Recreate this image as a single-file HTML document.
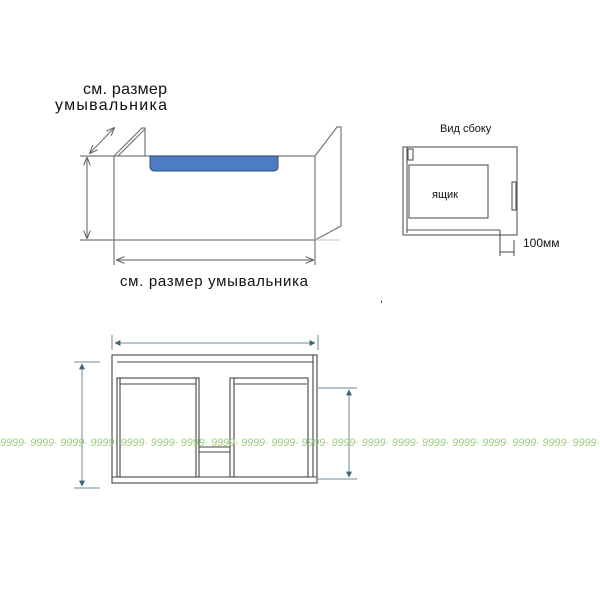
<!DOCTYPE html>
<html><head><meta charset="utf-8"><style>
body{margin:0;background:#fff}
svg{display:block}
text{font-family:"Liberation Sans","DejaVu Sans",sans-serif}
</style></head><body>
<svg width="600" height="600" viewBox="0 0 600 600" xmlns="http://www.w3.org/2000/svg">
<defs>
<marker id="a" viewBox="0 0 10 10" refX="9" refY="5" markerWidth="7" markerHeight="7" orient="auto-start-reverse"><path d="M0,1 L10,5 L0,9" fill="none" stroke="#666" stroke-width="1.3"/></marker>
<marker id="b" viewBox="0 0 10 10" refX="9" refY="5" markerWidth="6" markerHeight="6" orient="auto-start-reverse"><path d="M0,0 L10,5 L0,10z" fill="#3f6577"/></marker>
</defs>
<g fill="none" stroke="#777" stroke-width="1.2">
<rect x="114" y="156" width="201" height="84"/>
<path d="M114,156 L142,128 L145,128 L145,156"/>
<path d="M118,156 L145,129"/>
<path d="M315,156 L337,127 L341,127 L341,226 L315,240"/>
<line x1="315" y1="240" x2="340" y2="240" stroke="#ccc"/>
<line x1="80" y1="156" x2="114" y2="156"/>
<line x1="80" y1="240" x2="114" y2="240"/>
<line x1="87" y1="158" x2="87" y2="238" marker-start="url(#a)" marker-end="url(#a)"/>
<line x1="90" y1="153" x2="114" y2="128" marker-start="url(#a)" marker-end="url(#a)"/>
<line x1="114" y1="240" x2="114" y2="265"/>
<line x1="315" y1="240" x2="315" y2="265"/>
<line x1="117" y1="260" x2="313" y2="260" marker-start="url(#a)" marker-end="url(#a)"/>
</g>
<path d="M150,156 L278,156 L278,166 Q278,171 273,171 L155,171 Q150,171 150,166 Z" fill="#4d7cc0" stroke="#2f4f7a" stroke-width="1"/>
<text x="83" y="94" font-size="16" fill="#111" textLength="84">см. размер</text>
<text x="55" y="110" font-size="16" fill="#111" textLength="112">умывальника</text>
<text x="120" y="286" font-size="15" fill="#111" textLength="188">см. размер умывальника</text>
<text x="380" y="302" font-size="10" fill="#111">,</text>
<g fill="none" stroke="#555" stroke-width="1.1">
<rect x="403" y="147" width="114" height="88"/>
<line x1="407" y1="147" x2="407" y2="233"/>
<rect x="408" y="149" width="5" height="11"/>
<rect x="409" y="165" width="79" height="53"/>
<line x1="407" y1="230" x2="500" y2="230"/>
<rect x="512" y="182" width="4" height="28"/>
<line x1="500" y1="230" x2="500" y2="256"/>
<line x1="514" y1="240" x2="514" y2="256"/>
<line x1="500" y1="252" x2="514" y2="252"/>
</g>
<text x="440" y="132" font-size="11" fill="#111">Вид сбоку</text>
<text x="432" y="198" font-size="11" fill="#111">ящик</text>
<text x="523" y="247" font-size="12" fill="#111">100мм</text>
<g fill="none" stroke="#444" stroke-width="1.1">
<rect x="112" y="355" width="205" height="128"/>
<line x1="117" y1="362" x2="313" y2="362"/>
<line x1="313" y1="355" x2="313" y2="477"/>
<rect x="117" y="378" width="82" height="99"/>
<line x1="120" y1="384" x2="196" y2="384"/>
<line x1="120" y1="378" x2="120" y2="477"/>
<line x1="196" y1="378" x2="196" y2="477"/>
<rect x="230" y="378" width="78" height="99"/>
<line x1="234" y1="384" x2="307" y2="384"/>
<line x1="234" y1="378" x2="234" y2="477"/>
<line x1="199" y1="447" x2="230" y2="447"/>
<line x1="199" y1="452" x2="230" y2="452"/>
<line x1="112" y1="477" x2="317" y2="477"/>
</g>
<g stroke="#6d8a99" stroke-width="1" fill="none">
<line x1="112" y1="335" x2="112" y2="350"/>
<line x1="318" y1="335" x2="318" y2="350"/>
<line x1="115" y1="343" x2="315" y2="343" marker-start="url(#b)" marker-end="url(#b)"/>
<line x1="74" y1="362" x2="100" y2="362"/>
<line x1="74" y1="488" x2="100" y2="488"/>
<line x1="82" y1="364" x2="82" y2="486" marker-start="url(#b)" marker-end="url(#b)"/>
<line x1="318" y1="388" x2="357" y2="388"/>
<line x1="318" y1="479" x2="357" y2="479"/>
<line x1="349" y1="390" x2="349" y2="477" marker-start="url(#b)" marker-end="url(#b)"/>
</g>
<text x="0" y="446" font-size="11" font-style="italic" fill="#9fcd80" textLength="600" lengthAdjust="spacing">9999· 9999· 9999· 9999· 9999· 9999· 9999· 9999· 9999· 9999· 9999· 9999· 9999· 9999· 9999· 9999· 9999· 9999· 9999· 9999·</text>
</svg>
</body></html>
